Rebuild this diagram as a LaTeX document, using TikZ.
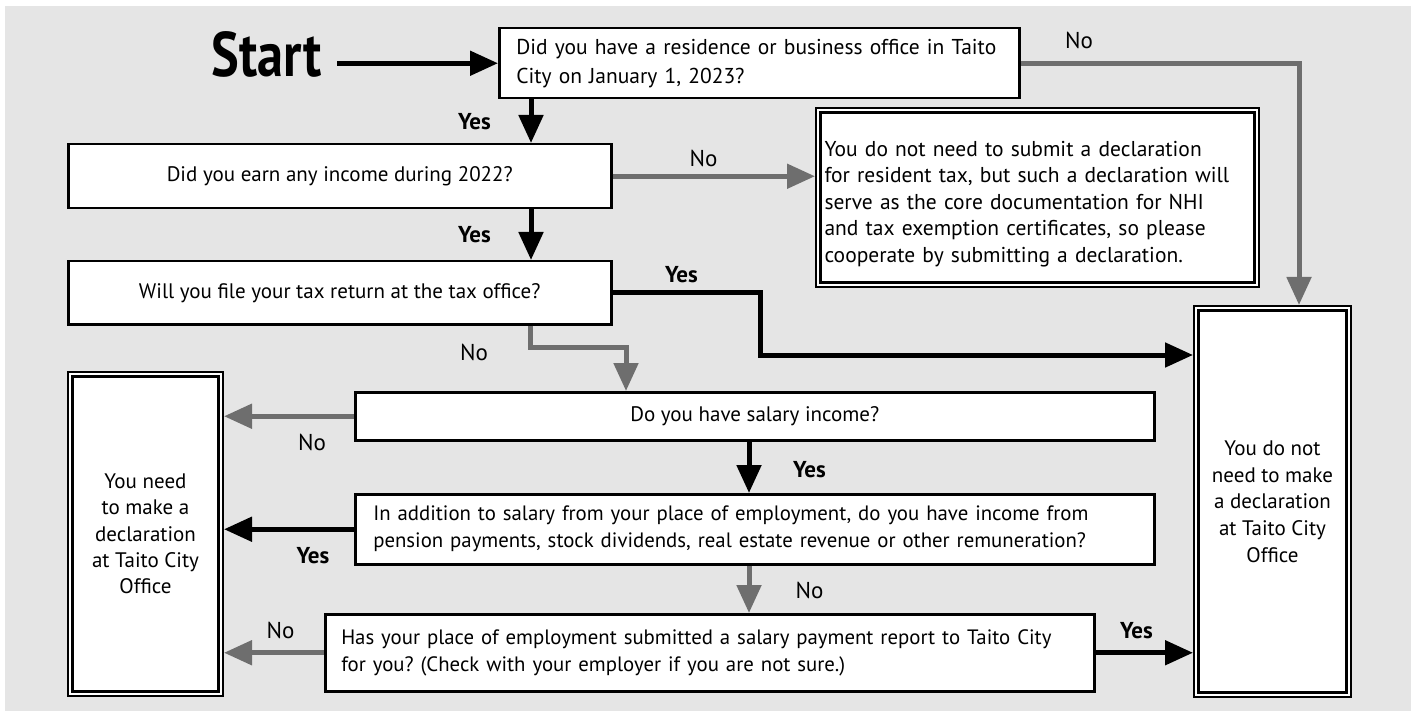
\documentclass[tikz,border=0pt]{standalone}
\usepackage{fontspec}
\setmainfont{PT Sans}
\newfontfamily\startfont[FakeStretch=0.83]{PT Sans}
\usetikzlibrary{arrows.meta}
\definecolor{bg}{gray}{0.9}
\definecolor{arr}{gray}{0.43}
\frenchspacing
\begin{document}
\begin{tikzpicture}[x=1pt,y=-1pt,
  every node/.style={font=\fontsize{21}{27}\selectfont},
  qbox/.style={draw=black, line width=2.5pt, fill=white, inner sep=0pt, anchor=north west},
  rbox/.style={draw=black, line width=2.2pt, double=white, double distance=2.2pt, fill=white,
    anchor=north west, inner sep=0pt, outer sep=3.3pt, align=center},
  yesarr/.style={draw=black, line width=5pt, -{Triangle[length=28pt,width=24pt]}},
  noarr/.style={draw=arr, line width=5pt, -{Triangle[length=28pt,width=24pt]}},
  lblyes/.style={anchor=base, inner sep=0pt, font=\fontsize{23}{26}\selectfont\bfseries},
  lblno/.style={anchor=base, inner sep=0pt, font=\fontsize{23}{26}\selectfont},
  startlbl/.style={anchor=base east, inner sep=0pt, font=\fontsize{63}{63}\startfont\bfseries}
]
\useasboundingbox (0,0) rectangle (1416,711);
\fill[bg] (5,6) rectangle (1411,711);

% nodes
\node[startlbl] (start) at (322,77) {Start};
\node[qbox, text width=486pt, align=left, inner xsep=17pt, minimum height=70pt,
  font=\fontsize{21.5}{29}\selectfont] (q1) at (498,27)
  {Did you have a residence or business office in Taito\\City on January 1, 2023?};
\node[qbox, minimum width=543pt, minimum height=64pt] (q2) at (67,143) {Did you earn any income during 2022?};
\node[qbox, minimum width=543pt, minimum height=63pt] (q3) at (67,260) {Will you file your tax return at the tax office?};
\node[qbox, minimum width=799pt, minimum height=48pt] (q4) at (354,391) {Do you have salary income?};
\node[qbox, text width=763pt, align=left, inner xsep=18pt, minimum height=70pt,
  font=\fontsize{20.8}{27}\selectfont] (q5) at (354,493)
  {In addition to salary from your place of employment, do you have income from\\pension payments, stock dividends, real estate revenue or other remuneration?};
\node[qbox, text width=737pt, align=left, inner xsep=16pt, minimum height=77pt,
  font=\fontsize{20.8}{27}\selectfont] (q6) at (324,613)
  {Has your place of employment submitted a salary payment report to Taito City\\for you? (Check with your employer if you are not sure.)};
\node[rbox, minimum width=438.4pt, minimum height=174.4pt, text width=426pt, align=left, inner xsep=6pt,
  font=\fontsize{21.5}{26.5}\selectfont] (note) at (815,107)
  {\rule{0pt}{28pt}You do not need to submit a declaration\\for resident tax, but such a declaration will\\serve as the core documentation for NHI\\and tax exemption certificates, so please\\cooperate by submitting a declaration.};
\node[rbox, minimum width=152.4pt, minimum height=386.4pt, font=\fontsize{21}{26.7}\selectfont] (R) at (1193,305)
  {You do not\\need to make\\a declaration\\at Taito City\\Office};
\node[rbox, minimum width=150.4pt, minimum height=319.4pt, font=\fontsize{21}{26.3}\selectfont] (L) at (67,371)
  {You need\\to make a\\declaration\\at Taito City\\Office};

% helper coordinates
\coordinate (xa) at (531,0);
\coordinate (xb) at (1299,0);
\coordinate (k1) at (760,355);
\coordinate (k2) at (530,347);
\coordinate (k3) at (626,347);
\coordinate (xc) at (749,0);

% connectors
\draw[yesarr] ([xshift=15pt]start.east |- q1.west) -- (q1.west);
\draw[yesarr] (q1.south -| xa) -- (q2.north -| xa);
\draw[yesarr] (q2.south -| xa) -- (q3.north -| xa);
\draw[noarr] (q2.east) -- (note.west |- q2.east);
\draw[noarr] (q1.east) -| (R.north -| xb);
\draw[yesarr] (q3.east) -| (k1) -- (R.west |- k1);
\draw[noarr] (q3.south -| k2) -- (k2) -- (k3) -- (q4.north -| k3);
\draw[noarr] (q4.west) -- (L.east |- q4.west);
\draw[yesarr] (q4.south -| xc) -- (q5.north -| xc);
\draw[yesarr] (q5.west) -- (L.east |- q5.west);
\draw[noarr] (q5.south -| xc) -- (q6.north -| xc);
\draw[noarr] (q6.west) -- (L.east |- q6.west);
\draw[yesarr] (q6.east) -- (R.west |- q6.east);

% labels
\node[lblyes] (y1) at (474.5,130) {Yes};
\node[lblyes] (y2) at (474.5,243) {Yes};
\node[lblyes] (y3) at (681.5,283) {Yes};
\node[lblyes] (y4) at (809.5,477) {Yes};
\node[lblyes] (y5) at (313,563) {Yes};
\node[lblyes] (y6) at (1136.5,638) {Yes};
\node[lblno] (n1) at (1079,49) {No};
\node[lblno] (n2) at (703.5,167) {No};
\node[lblno] (n3) at (474,360) {No};
\node[lblno] (n4) at (312,450) {No};
\node[lblno] (n5) at (809.5,598) {No};
\node[lblno] (n6) at (280.5,638) {No};
\end{tikzpicture}
\end{document}
